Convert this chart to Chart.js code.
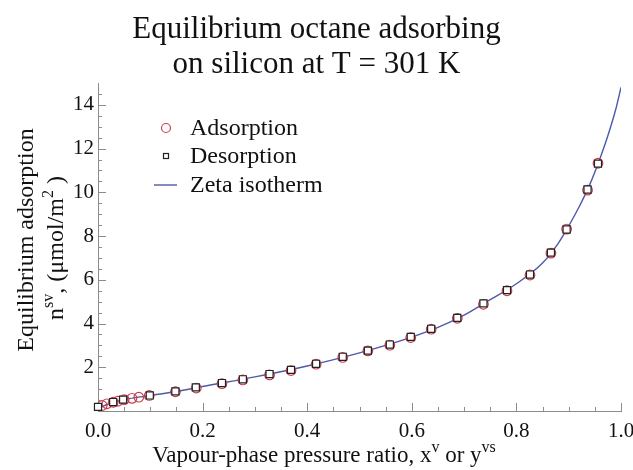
<!DOCTYPE html>
<html>
<head>
<meta charset="utf-8">
<script src="https://cdn.jsdelivr.net/npm/chart.js@4.4.1/dist/chart.umd.min.js"></script>
<style>
  html, body { margin: 0; padding: 0; background: #fff; }
  #wrap { width: 633px; height: 470px; position: relative; }
</style>
</head>
<body>
<div id="wrap"><canvas id="isotherm"></canvas></div>
<script>
// values
const adsX = [0.008, 0.017, 0.029, 0.038, 0.050, 0.065, 0.078, 0.098, 0.148, 0.188, 0.237, 0.277, 0.328, 0.369,
  0.417, 0.468, 0.516, 0.558, 0.598, 0.637, 0.687, 0.737, 0.782, 0.826, 0.866, 0.896, 0.936, 0.956];
const adsY = [0.25, 0.33, 0.40, 0.45, 0.52, 0.58, 0.63, 0.71, 0.88, 1.05, 1.25, 1.42, 1.65, 1.85,
  2.14, 2.45, 2.75, 3.01, 3.36, 3.74, 4.24, 4.88, 5.50, 6.22, 7.22, 8.32, 10.10, 11.33];

const desX = [0.000, 0.029, 0.048, 0.099, 0.148, 0.187, 0.237, 0.277, 0.328, 0.369, 0.417, 0.468,
  0.516, 0.558, 0.598, 0.637, 0.687, 0.737, 0.782, 0.826, 0.866, 0.896, 0.936, 0.956];
const desY = [0.19, 0.41, 0.52, 0.71, 0.90, 1.08, 1.28, 1.45, 1.69, 1.88, 2.16, 2.48,
  2.76, 3.04, 3.39, 3.76, 4.26, 4.92, 5.53, 6.24, 7.24, 8.30, 10.13, 11.31];

const zetaX = [0, 0.01, 0.03, 0.05, 0.1, 0.15, 0.2, 0.3, 0.4, 0.5, 0.6, 0.65, 0.7, 0.75, 0.8,
  0.85, 0.88, 0.9, 0.92, 0.94, 0.96, 0.975, 0.99, 1.0];
const zetaY = [0.08, 0.22, 0.40, 0.52, 0.71, 0.89, 1.12, 1.56, 2.06, 2.66, 3.38, 3.82, 4.38, 5.09, 5.82,
  6.77, 7.67, 8.46, 9.34, 10.34, 11.56, 12.60, 13.80, 14.80];

const xTicks = [0, 0.2, 0.4, 0.6, 0.8, 1.0];
const yTicks = [2, 4, 6, 8, 10, 12, 14];

const serif = "'Liberation Serif', 'Times New Roman', serif";
const axisGrey = '#8c8c8c';
const adsRed = '#cc3d4a';
const zetaBlue = '#4c5aa8';

function pts(xs, ys) {
  return xs.map((x, i) => ({ x: x, y: ys[i] }));
}

// draw a line of text with superscript parts, centred on x
function drawRich(ctx, parts, x, y, size) {
  const supSize = Math.round(size * 0.68);
  let w = 0;
  parts.forEach(p => {
    ctx.font = (p[1] ? supSize : size) + 'px ' + serif;
    w += ctx.measureText(p[0]).width;
  });
  let cx = x - w / 2;
  parts.forEach(p => {
    ctx.font = (p[1] ? supSize : size) + 'px ' + serif;
    ctx.fillText(p[0], cx, p[1] ? y - size * 0.42 : y);
    cx += ctx.measureText(p[0]).width;
  });
}

// ticks pointing into the plot, majors and minors
const inwardTicks = {
  id: 'inwardTicks',
  beforeDatasetsDraw(chart) {
    const ctx = chart.ctx;
    const xs = chart.scales.x, ys = chart.scales.y;
    const left = chart.chartArea.left, bottom = chart.chartArea.bottom;
    ctx.save();
    ctx.strokeStyle = axisGrey;
    ctx.lineWidth = 1;
    ctx.beginPath();
    for (let i = 1; i <= 20; i++) {
      const px = Math.round(xs.getPixelForValue(i * 0.05)) + 0.5;
      const len = i % 4 === 0 ? 8 : 4;
      ctx.moveTo(px, bottom);
      ctx.lineTo(px, bottom - len);
    }
    for (let i = 1; i <= 29; i++) {
      const py = Math.round(ys.getPixelForValue(i * 0.5)) + 0.5;
      const len = i % 4 === 0 ? 8 : 4;
      ctx.moveTo(left, py);
      ctx.lineTo(left + len, py);
    }
    ctx.stroke();
    ctx.restore();
  }
};

// legend inside the plot, top left
const insideLegend = {
  id: 'insideLegend',
  afterDraw(chart) {
    const ctx = chart.ctx;
    const mx = 166, tx = 190;
    const rows = [128, 156, 185];
    ctx.save();
    ctx.lineWidth = 1.2;
    ctx.strokeStyle = adsRed;
    ctx.beginPath();
    ctx.arc(mx, rows[0], 4.5, 0, Math.PI * 2);
    ctx.stroke();
    ctx.strokeStyle = '#222';
    ctx.strokeRect(mx - 2.5, rows[1] - 2.5, 5, 5);
    ctx.strokeStyle = zetaBlue;
    ctx.lineWidth = 1.4;
    ctx.beginPath();
    ctx.moveTo(154, rows[2]);
    ctx.lineTo(177, rows[2]);
    ctx.stroke();
    ctx.fillStyle = '#111';
    ctx.font = '24px ' + serif;
    ctx.textBaseline = 'alphabetic';
    ctx.textAlign = 'left';
    ['Adsorption', 'Desorption', 'Zeta isotherm'].forEach((t, i) => {
      ctx.fillText(t, tx, rows[i] + 7);
    });
    ctx.restore();
  }
};

// axis titles with superscripts
const axisTitles = {
  id: 'axisTitles',
  afterDraw(chart) {
    const ctx = chart.ctx;
    ctx.save();
    ctx.fillStyle = '#111';
    ctx.textAlign = 'left';
    ctx.textBaseline = 'alphabetic';
    drawRich(ctx, [['Vapour-phase pressure ratio, x', false], ['v', true], [' or y', false], ['vs', true]], 324, 462, 23);
    ctx.translate(33, 240);
    ctx.rotate(-Math.PI / 2);
    drawRich(ctx, [['Equilibrium adsorption', false]], 0, 0, 24);
    ctx.translate(-8, 30);
    drawRich(ctx, [['n', false], ['sv', true], [', (μmol/m', false], ['2', true], [' )', false]], 0, 0, 24);
    ctx.restore();
  }
};

new Chart(document.getElementById('isotherm'), {
  type: 'scatter',
  data: {
    datasets: [
      {
        label: 'Desorption',
        data: pts(desX, desY),
        pointStyle: 'rect',
        pointRadius: 5,
        borderColor: '#222',
        backgroundColor: '#fff',
        borderWidth: 1.2,
        clip: false,
        order: 0
      },
      {
        label: 'Adsorption',
        data: pts(adsX, adsY),
        pointStyle: 'circle',
        pointRadius: 4.8,
        borderColor: adsRed,
        backgroundColor: 'rgba(0,0,0,0)',
        borderWidth: 1.2,
        clip: false,
        order: 1
      },
      {
        label: 'Zeta isotherm',
        data: pts(zetaX, zetaY),
        showLine: true,
        pointRadius: 0,
        borderColor: zetaBlue,
        borderWidth: 1.4,
        cubicInterpolationMode: 'monotone',
        fill: false,
        order: 2
      }
    ]
  },
  options: {
    responsive: true,
    maintainAspectRatio: false,
    animation: false,
    events: [],
    layout: { padding: 0 },
    plugins: {
      legend: { display: false },
      tooltip: { enabled: false },
      title: {
        display: true,
        text: ['Equilibrium octane adsorbing', 'on silicon at T = 301 K'],
        color: '#111',
        font: { family: serif, size: 31, weight: 'normal', lineHeight: 35 / 31 },
        padding: { top: 12, bottom: 1 }
      }
    },
    scales: {
      x: {
        type: 'linear',
        min: 0,
        max: 1,
        grid: { display: false, drawTicks: false },
        border: { display: true, color: axisGrey, width: 1 },
        ticks: {
          color: '#111',
          padding: 8,
          maxRotation: 0,
          font: { family: serif, size: 21 },
          callback: v => v.toFixed(1)
        },
        afterBuildTicks: s => { s.ticks = xTicks.map(v => ({ value: v })); },
        afterFit: s => { s.height = 59; s.paddingLeft = 0; s.paddingRight = 12; }
      },
      y: {
        type: 'linear',
        min: 0,
        max: 15,
        grid: { display: false, drawTicks: false },
        border: { display: true, color: axisGrey, width: 1 },
        ticks: {
          color: '#111',
          padding: 4,
          font: { family: serif, size: 21 },
          callback: v => String(v)
        },
        afterBuildTicks: s => { s.ticks = yTicks.map(v => ({ value: v })); },
        afterFit: s => { s.width = 98; s.paddingTop = 0; s.paddingBottom = 0; }
      }
    }
  },
  plugins: [inwardTicks, insideLegend, axisTitles]
});
</script>
</body>
</html>
